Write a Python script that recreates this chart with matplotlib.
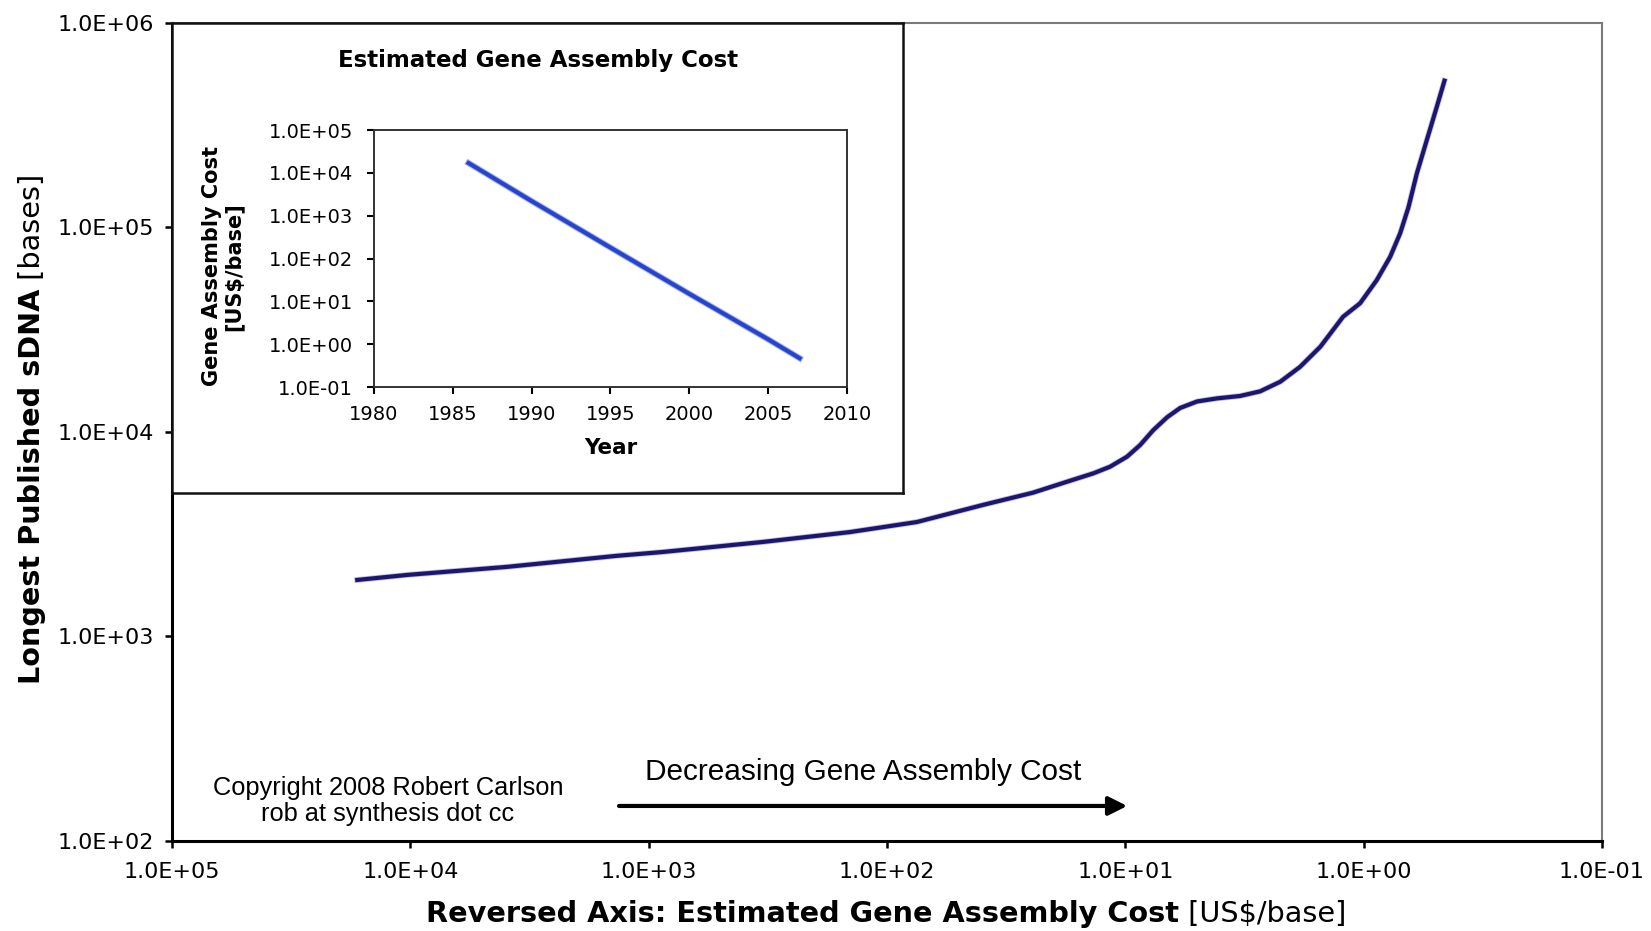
import matplotlib
matplotlib.use('Agg')
import matplotlib.pyplot as plt
from matplotlib.ticker import FixedLocator, FuncFormatter, NullLocator

# longest published synthetic DNA vs. estimated assembly cost
cost_per_base = [16700, 10300, 3930, 1360, 871, 331, 143, 74.8, 39.5, 24.4, 17.5,
                 13.6, 11.6, 9.84, 8.67, 7.64, 6.68, 5.89, 5.00, 4.12, 3.30, 2.72, 2.24,
                 1.85, 1.52, 1.22, 1.035, 0.881, 0.774, 0.703, 0.648, 0.598, 0.543,
                 0.493, 0.458]
longest_sdna = [1890, 2000, 2190, 2480, 2590, 2900, 3240, 3630, 4400, 5050, 5720,
                6280, 6760, 7570, 8630, 10200, 11800, 13100, 14100, 14600, 15000, 15800,
                17600, 20800, 26100, 36600, 42600, 55300, 71900, 93600, 126000, 184000,
                268000, 390000, 522000]

# assembly cost by year (inset)
years = [1986, 1990, 1995, 2000, 2005, 2007]
cost_by_year = [1.7e4, 2.2e3, 1.8e2, 1.5e1, 1.3, 0.47]

main_xticks = [1e5, 1e4, 1e3, 1e2, 1e1, 1e0, 1e-1]
main_yticks = [1e2, 1e3, 1e4, 1e5, 1e6]
inset_xticks = [1980, 1985, 1990, 1995, 2000, 2005, 2010]
inset_yticks = [1e-1, 1e0, 1e1, 1e2, 1e3, 1e4, 1e5]

sci = FuncFormatter(lambda v, pos: '%.1E' % v)
arial = ['Liberation Sans', 'DejaVu Sans']

fig = plt.figure(figsize=(16.51, 9.31), dpi=100)
fig.patch.set_facecolor('white')

# main chart
ax = fig.add_axes([0.1042, 0.0967, 0.8661, 0.8786])
ax.set_xscale('log')
ax.set_yscale('log')
ax.set_xlim(1e5, 1e-1)
ax.set_ylim(1e2, 1e6)
ax.plot(cost_per_base, longest_sdna, color='#4a44c8', lw=4.2, alpha=0.35, zorder=2,
        solid_joinstyle='round')
ax.plot(cost_per_base, longest_sdna, color='#1c176a', lw=3, zorder=3,
        solid_joinstyle='round')

ax.xaxis.set_major_locator(FixedLocator(main_xticks))
ax.yaxis.set_major_locator(FixedLocator(main_yticks))
ax.xaxis.set_minor_locator(NullLocator())
ax.yaxis.set_minor_locator(NullLocator())
ax.xaxis.set_major_formatter(sci)
ax.yaxis.set_major_formatter(sci)
ax.tick_params(axis='both', direction='out', length=5, width=1.8, labelsize=16, pad=8)
ax.tick_params(axis='x', pad=10)
for s in ['left', 'bottom']:
    ax.spines[s].set_linewidth(2.2)
    ax.spines[s].set_color('black')
for s in ['top', 'right']:
    ax.spines[s].set_linewidth(1.5)
    ax.spines[s].set_color('#7a7a7a')

# axis titles, bold part then normal part
xl = fig.text(426 / 1651, 1 - 914 / 931, 'Reversed Axis: Estimated Gene Assembly Cost',
              fontsize=20.7, fontweight='bold', ha='left', va='center')
ax.annotate(' [US$/base]', xy=(1, 1 - 914 / 931), xycoords=(xl, 'figure fraction'),
            fontsize=20.7, ha='left', va='center')
yl = fig.text(32 / 1651, 1 - 684 / 931, 'Longest Published sDNA',
              fontsize=20.7, fontweight='bold', rotation=90, ha='center', va='bottom')
ax.annotate(' [bases]', xy=(32 / 1651, 1), xycoords=('figure fraction', yl),
            fontsize=20.7, rotation=90, ha='center', va='bottom')

# notes and direction arrow
ax.text(0.151, 0.049, 'Copyright 2008 Robert Carlson\nrob at synthesis dot cc',
        transform=ax.transAxes, ha='center', va='center', fontsize=18.3,
        family=arial, linespacing=1.1)
ax.text(0.483, 0.0844, 'Decreasing Gene Assembly Cost', transform=ax.transAxes,
        ha='center', va='center', fontsize=21.4, family=arial)
ax.annotate('', xy=(0.668, 0.0428), xytext=(0.3126, 0.0428), xycoords='axes fraction',
            arrowprops=dict(arrowstyle='-|>', color='black', lw=3, mutation_scale=28,
                            shrinkA=0, shrinkB=0))

# inset panel
panel = fig.add_axes([0.1042, 0.4705, 0.4428, 0.5048])
panel.set_xticks([])
panel.set_yticks([])
panel.patch.set_facecolor('white')
for s in panel.spines.values():
    s.set_linewidth(1.8)
    s.set_color('#111111')
fig.text(538 / 1651, 1 - 61 / 931, 'Estimated Gene Assembly Cost', fontsize=16.5,
         fontweight='bold', ha='center', va='center')

ins = fig.add_axes([0.2265, 0.5843, 0.2865, 0.2760])
ins.set_yscale('log')
ins.set_xlim(1980, 2010)
ins.set_ylim(1e-1, 1e5)
ins.plot(years, cost_by_year, color='#3a5ce6', lw=4.5, alpha=0.45, zorder=2)
ins.plot(years, cost_by_year, color='#2843cc', lw=3, zorder=3)
ins.xaxis.set_major_locator(FixedLocator(inset_xticks))
ins.yaxis.set_major_locator(FixedLocator(inset_yticks))
ins.yaxis.set_minor_locator(NullLocator())
ins.yaxis.set_major_formatter(sci)
ins.tick_params(axis='both', direction='out', length=5, width=1.5, labelsize=14, pad=10)
ins.tick_params(axis='x', pad=8)
for s in ins.spines.values():
    s.set_linewidth(1.4)
    s.set_color('#333333')
ins.set_xlabel('Year', fontsize=15.5, fontweight='bold', labelpad=10)
ins.set_ylabel('Gene Assembly Cost\n[US$/base]', fontsize=15, fontweight='bold',
               linespacing=1.1)
ins.yaxis.set_label_coords(-0.275, 0.47)

fig.savefig('out.png', dpi=100)
